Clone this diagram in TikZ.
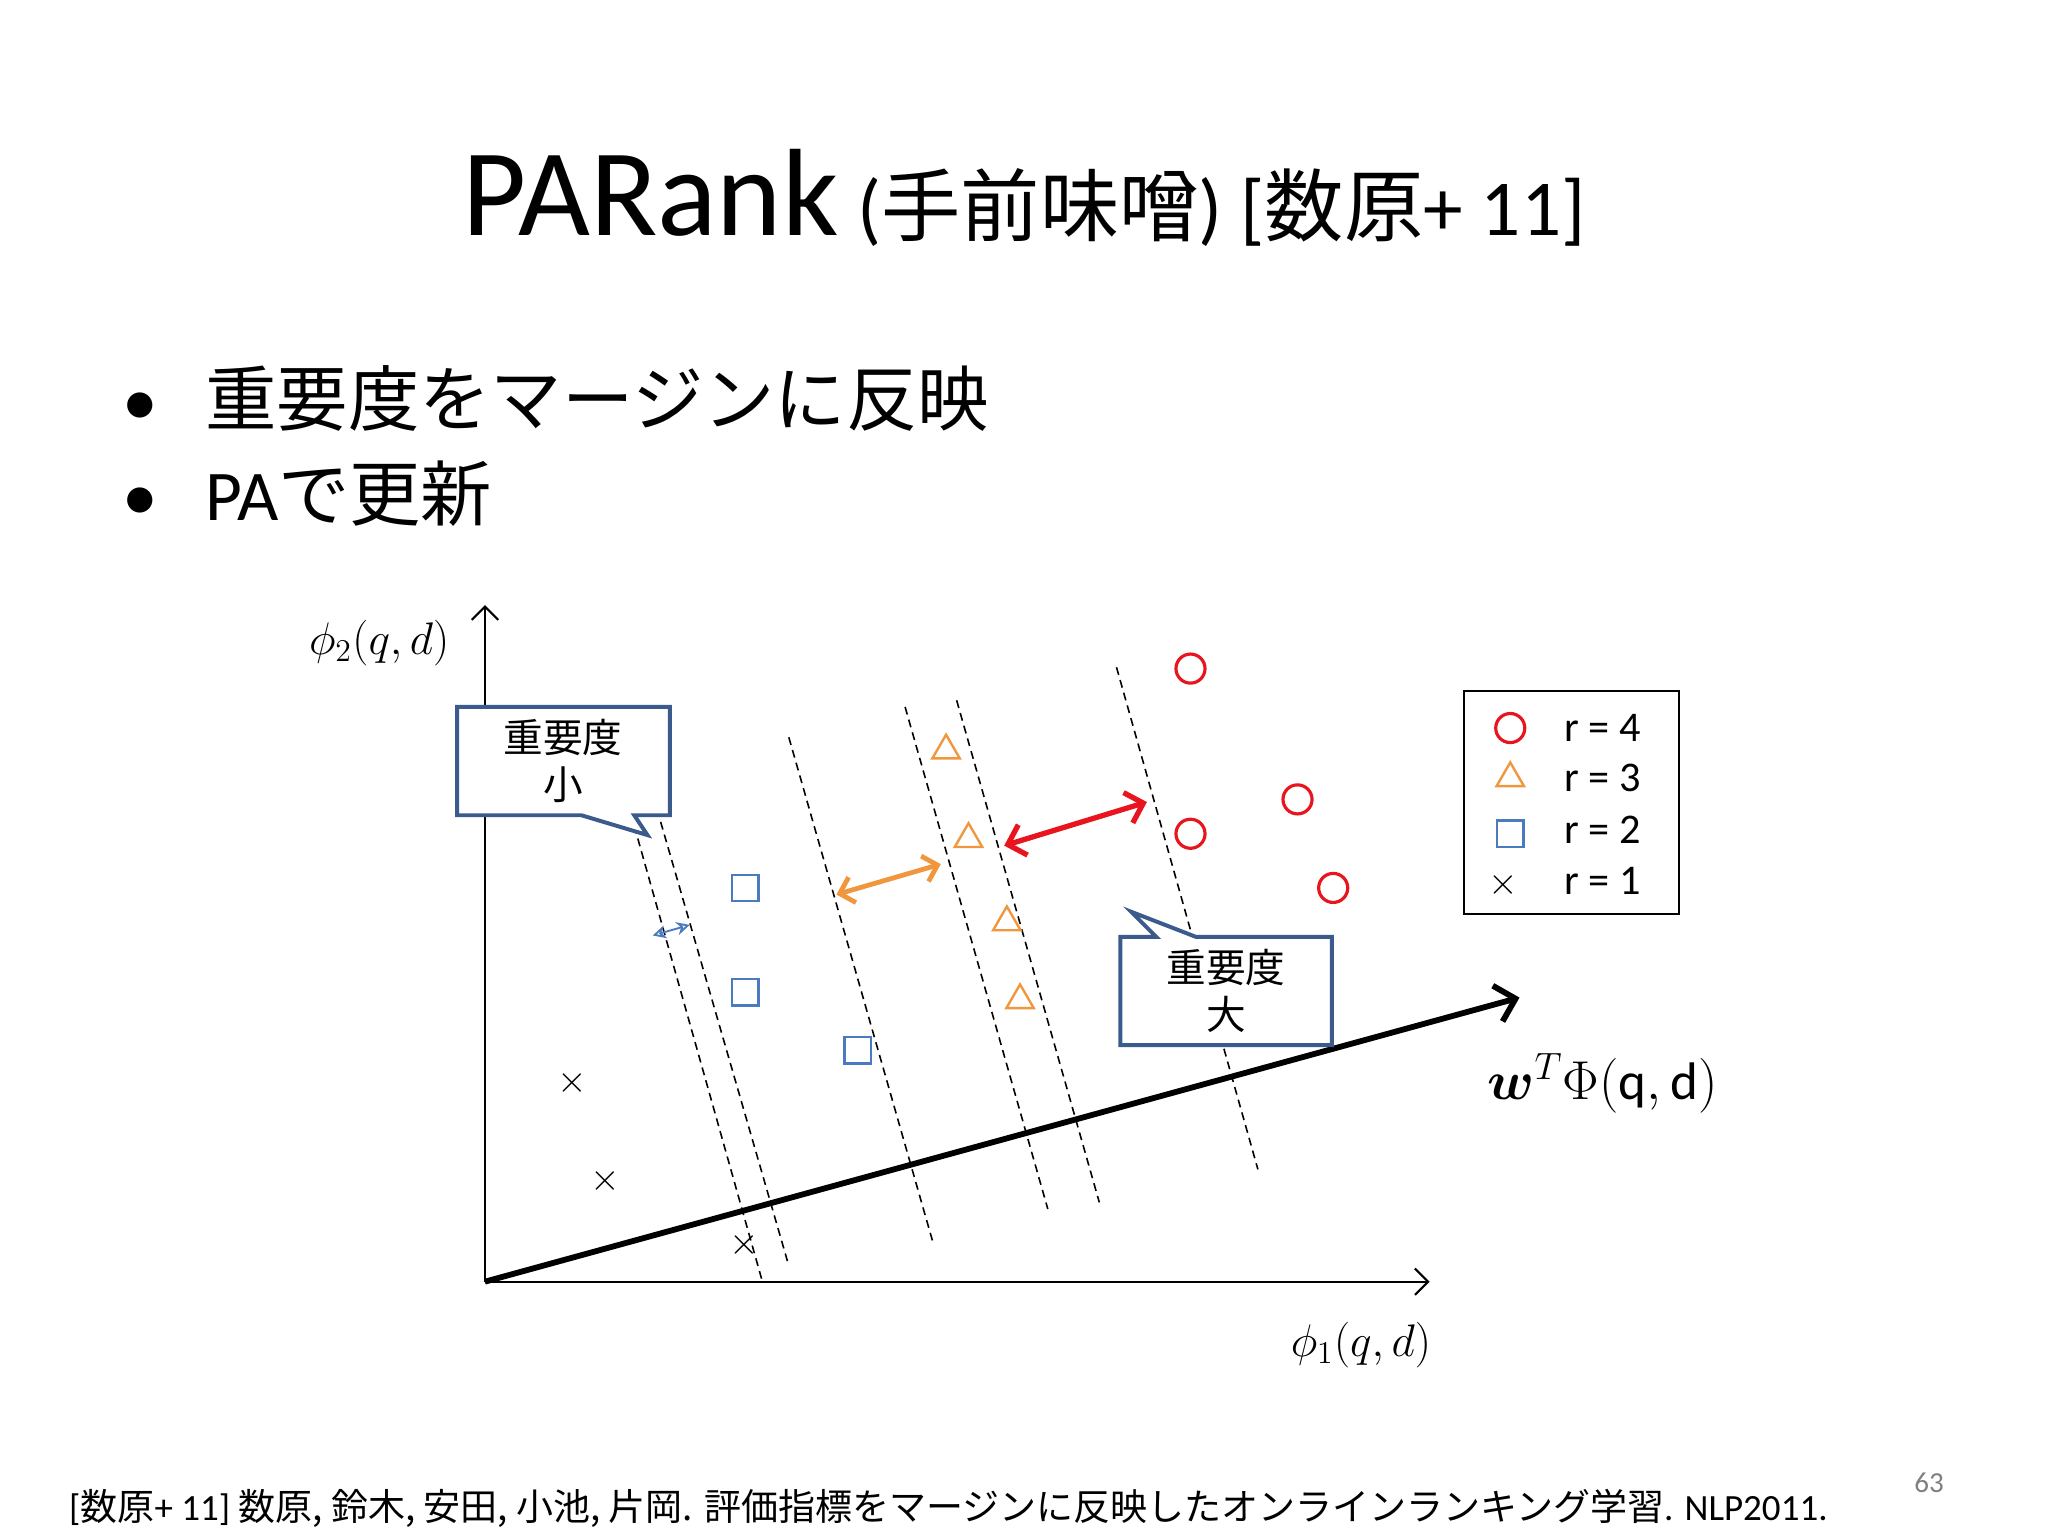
\documentclass[tikz,border=0pt]{standalone}
\usepackage{bm}
\usepackage{fontspec}
\setmainfont{Carlito}
\newfontfamily\jp{Noto Sans CJK JP}
\usetikzlibrary{arrows.meta,shapes.geometric}
\definecolor{cred}{HTML}{E8141E}
\definecolor{corg}{HTML}{F0963C}
\definecolor{cblu}{HTML}{4A7ABF}
\definecolor{cbox}{HTML}{3B5B8C}
\newcommand{\fs}[1]{\fontsize{#1}{#1}\selectfont}
\begin{document}
\begin{tikzpicture}[x=0.5pt,y=-0.5pt,
  dl/.style={densely dashed,line width=0.6pt},
  circ/.style={circle,draw=cred,line width=1.2pt,minimum size=11pt,inner sep=0pt},
  tri/.style={regular polygon,regular polygon sides=3,draw=corg,line width=0.9pt,minimum size=12pt,inner sep=0pt},
  sq/.style={rectangle,draw=cblu,line width=0.9pt,minimum size=10pt,inner sep=0pt},
  xm/.style={inner sep=0pt,font=\fs{14}},
  call/.style={draw=cbox,line width=1.5pt,fill=white},
  ctext/.style={font=\jp\fontsize{15}{18}\selectfont,align=center}]
\useasboundingbox (0,0) rectangle (1550,1162);
% title
\node[anchor=base west,inner sep=0] (t1) at (350,178) {\fs{47}PARank};
\node[anchor=base west,inner sep=0] (t2) at (t1.base east) {\fs{30}\ (\jp 手前味噌\rmfamily) [\jp 数原\rmfamily+ 11]};
% bullets
\node[anchor=base west,inner sep=0] (b1) at (92,322) {\fs{27}•};
\node[anchor=base west,inner sep=0] (b1t) at (155,322) {\jp\fs{27}重要度をマージンに反映};
\node[anchor=base west,inner sep=0] (b2) at (92,394) {\fs{27}•};
\node[anchor=base west,inner sep=0] (b2t) at (155,394) {\fs{27}PA\jp で更新};
% axes
\coordinate (o) at (367,970);
\coordinate (ytop) at (367,458);
\coordinate (xend) at (1082,970);
\draw[-{Straight Barb[length=5pt]},line width=0.8pt] (o) -- (ytop);
\draw[-{Straight Barb[length=5pt]},line width=0.8pt] (o) -- (xend);
\node (ylab) at (287,487) {\fs{17}$\phi_2(q,d)$};
\node (xlab) at (1030,1018) {\fs{17}$\phi_1(q,d)$};
% dashed
\draw[dl] (480,625) -- (577,970);
\draw[dl] (500,622) -- (597,958);
\draw[dl] (597,558) -- (706,940);
\draw[dl] (685,535) -- (793,915);
\draw[dl] (724,530) -- (832,910);
\draw[dl] (845,505) -- (952,885);
% w line
\coordinate (wend) at (1150,755);
\draw[line width=2.2pt,-{Straight Barb[length=7pt]}] (o) -- (wend);
\node (wlab) at (1213,820) {\fs{20}$\bm{w}^T\Phi(\mathrm{q,d})$};
% points
\foreach \p/\q in {901/506,982/605,901/631,1009/672} \node[circ] at (\p,\q) {};
\foreach \p/\q in {716/568,733/635,762/698,772/757} \node[tri] at (\p,\q) {};
\foreach \p/\q in {564/672,564/751,649/795} \node[sq] at (\p,\q) {};
\foreach \p/\q in {433/820,458/894,563/942} \node[xm] at (\p,\q) {$\times$};
% arrows
\coordinate (oa) at (633,677); \coordinate (ob) at (712,654);
\draw[corg,line width=1.8pt,{Straight Barb[length=5pt]}-{Straight Barb[length=5pt]}] (oa) -- (ob);
\coordinate (ra) at (760,640); \coordinate (rb) at (868,607);
\draw[cred,line width=2pt,{Straight Barb[length=6pt]}-{Straight Barb[length=6pt]}] (ra) -- (rb);
\coordinate (ba) at (494,708); \coordinate (bb) at (522,700);
\draw[cblu,line width=0.7pt,{Stealth[open,length=5pt,width=5pt]}-{Stealth[open,length=5pt,width=5pt]}] (ba) -- (bb);
% callouts
\draw[call] (346,535) -- (507,535) -- (507,617) -- (480,617) -- (490,632) -- (440,617) -- (346,617) -- cycle;
\node[ctext] (c1) at (426,576) {重要度\\小};
\draw[call] (848,709) -- (875,709) -- (856,690) -- (905,709) -- (1008,709) -- (1008,791) -- (848,791) -- cycle;
\node[ctext] (c2) at (928,750) {重要度\\大};
% legend
\draw[line width=0.8pt] (1108,523) rectangle (1271,692);
\node[circ] (l1) at (1143,551) {};
\node[tri] (l2) at (1143,589) {};
\node[sq] (l3) at (1143,631) {};
\node[xm] (l4) at (1138,670) {$\times$};
\foreach \yy/\t in {551/4,589/3,628/2,667/1} \node[font=\fs{16}] at (1213,\yy) {r = \t};
% footer
\node[anchor=base west,inner sep=0] (ft) at (52,1151) {\fs{14}[\jp 数原\rmfamily+ 11] \jp 数原, 鈴木, 安田, 小池, 片岡. 評価指標をマージンに反映したオンラインランキング学習\rmfamily. NLP2011.};
\node[text=gray,font=\fs{11}] (pg) at (1460,1122) {63};
\end{tikzpicture}
\end{document}
